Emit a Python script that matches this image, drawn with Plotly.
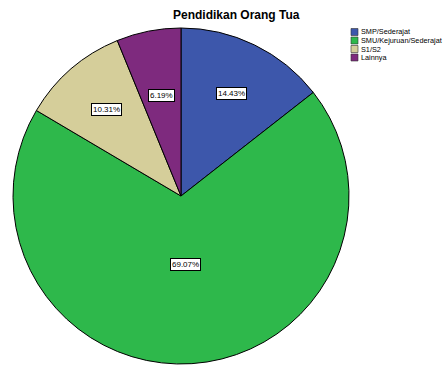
import math
import plotly.graph_objects as go

# Pendidikan orang tua: category shares in percent
categories = ["SMP/Sederajat", "SMU/Kejuruan/Sederajat", "S1/S2", "Lainnya"]
percentages = [14.43, 69.07, 10.31, 6.19]
colors = ["#3D57AB", "#2EB84B", "#D5CE9A", "#7E2A7E"]
# radial placement of each value box, as a fraction of the radius
label_radius = [0.68, 0.41, 0.68, 0.61]

W, H = 448, 367
ml, mr, mt, mb = 13, 99, 27, 2
pw, ph = W - ml - mr, H - mt - mb
radius_px = min(pw, ph) / 2

fig = go.Figure(go.Pie(
    labels=categories,
    values=percentages,
    marker=dict(colors=colors, line=dict(color="#000000", width=1)),
    sort=False,
    direction="clockwise",
    rotation=0,
    textinfo="none",
    hoverinfo="label+percent",
    showlegend=False,
))

annotations = []
total = sum(percentages)
cum = 0.0
for val, rf in zip(percentages, label_radius):
    mid = (cum + val / 2) / total * 2 * math.pi
    cum += val
    x = 0.5 + rf * radius_px * math.sin(mid) / pw
    y = 0.5 + rf * radius_px * math.cos(mid) / ph
    annotations.append(dict(
        x=x, y=y, xref="paper", yref="paper", showarrow=False,
        xanchor="center", yanchor="middle",
        text=f"{val:.2f}%", font=dict(family="Arial, Liberation Sans", size=8, color="#000000"),
        bgcolor="#FFFFFF", bordercolor="#000000", borderwidth=1, borderpad=1,
    ))

# Title
annotations.append(dict(
    x=(236 - ml) / pw, y=(H - mb - 15) / ph, xref="paper", yref="paper",
    showarrow=False, text="<b>Pendidikan Orang Tua</b>",
    font=dict(family="Arial, Liberation Sans", size=12, color="#000000"),
    xanchor="center", yanchor="middle",
))

# Compact legend
shapes = []
for i, (cat, col) in enumerate(zip(categories, colors)):
    yc = 32 + i * 8.5
    x0 = (351 - ml) / pw
    x1 = (358 - ml) / pw
    y0 = (H - mb - (yc + 3.5)) / ph
    y1 = (H - mb - (yc - 3.5)) / ph
    shapes.append(dict(type="rect", xref="paper", yref="paper",
                       x0=x0, x1=x1, y0=y0, y1=y1,
                       fillcolor=col, line=dict(color="#333333", width=0.6)))
    annotations.append(dict(
        x=(359 - ml) / pw, y=(H - mb - yc) / ph, xref="paper", yref="paper",
        showarrow=False, text=cat, xanchor="left", yanchor="middle",
        font=dict(family="Arial, Liberation Sans", size=7.3, color="#000000"),
    ))

fig.update_layout(
    width=W, height=H,
    margin=dict(l=ml, r=mr, t=mt, b=mb),
    paper_bgcolor="#FFFFFF", plot_bgcolor="#FFFFFF",
    annotations=annotations, shapes=shapes,
)

fig.write_html("out.html")
